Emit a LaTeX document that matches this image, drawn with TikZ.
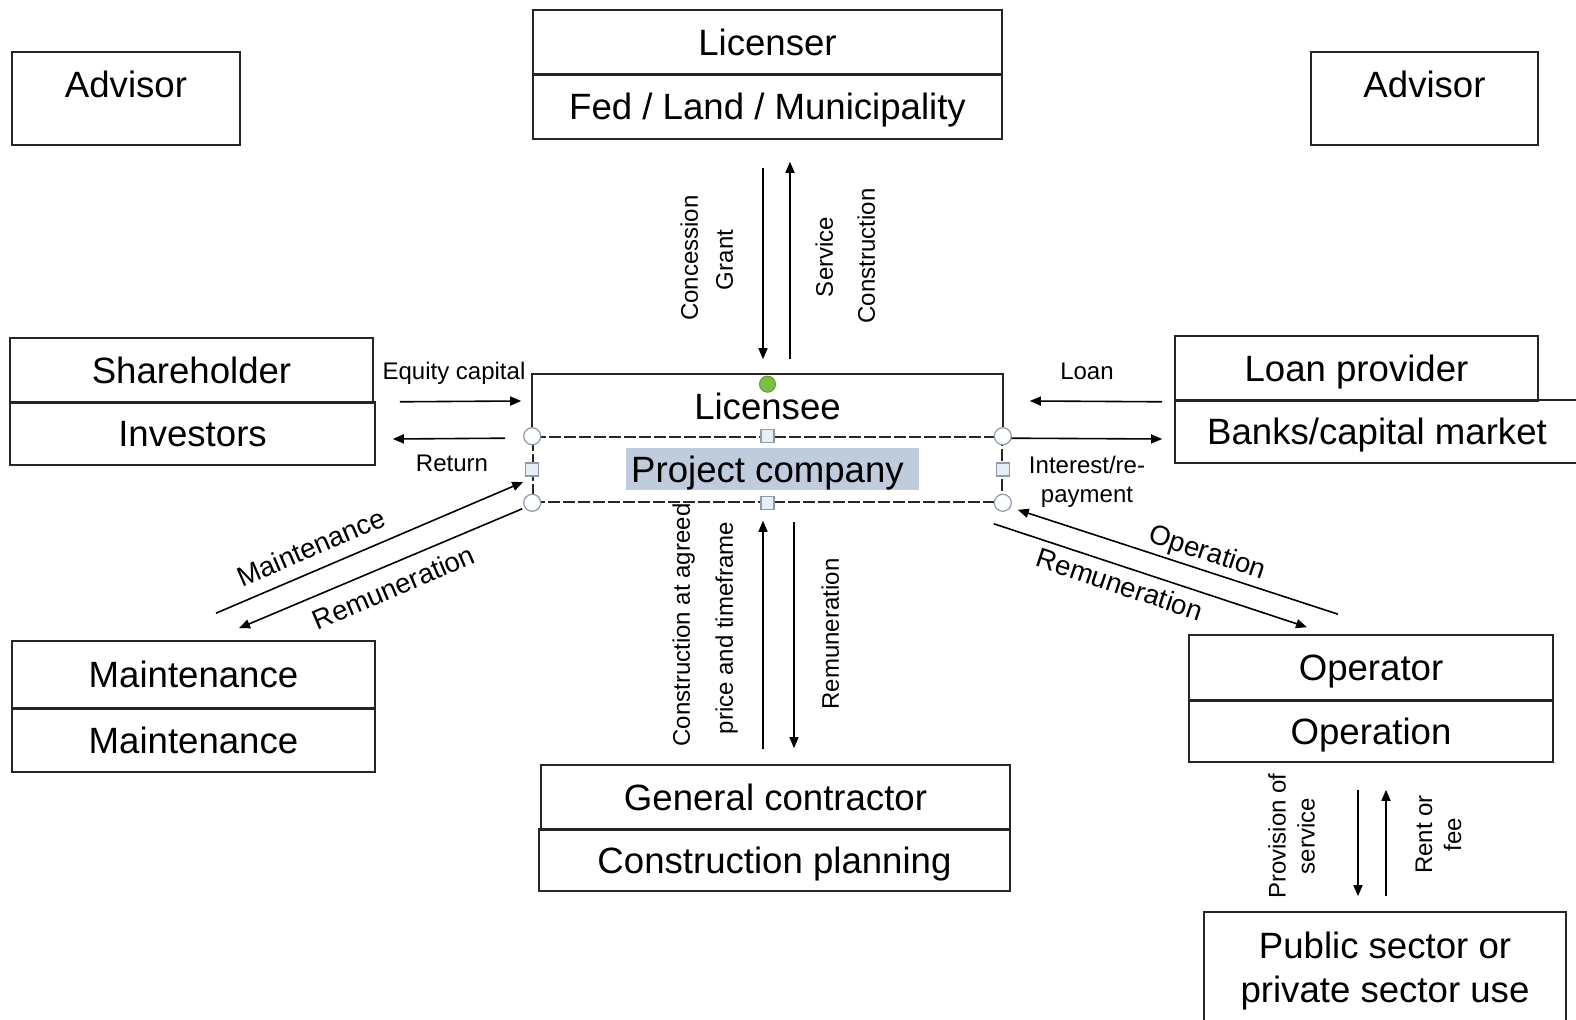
\documentclass[tikz,border=0pt]{standalone}
\usepackage{fontspec}
\setmainfont{Liberation Sans}
\usetikzlibrary{calc,arrows.meta}
\definecolor{hl}{HTML}{BFCCDD}
\definecolor{hgreen}{HTML}{7AC143}
\definecolor{hstroke}{HTML}{8C9AAA}
\definecolor{hsq}{HTML}{E6EEF7}
\begin{document}
\begin{tikzpicture}[x=0.5pt,y=-0.5pt,
  box/.style={draw=black!85, line width=0.8pt, inner sep=0pt, font=\fontsize{18.3}{22}\selectfont, align=center, text height=13.5pt, text depth=0pt},
  pbox/.style={draw=black!85, line width=0.8pt, inner sep=0pt, font=\fontsize{18.3}{22}\selectfont, align=center},
  lbl/.style={font=\fontsize{12}{14.5}\selectfont, inner sep=0pt, text height=8.8pt, text depth=0pt},
  mlbl/.style={font=\fontsize{12}{14.5}\selectfont, inner sep=0pt, align=center},
  dlbl/.style={font=\fontsize{13.8}{16}\selectfont, inner sep=0pt, text height=10pt, text depth=0pt},
  arr/.style={line width=0.8pt, -{Triangle[length=5.5pt,width=4.5pt]}},
  sepline/.style={line width=1.5pt, black!85}
]
\useasboundingbox (0,0) rectangle (1576,1020);
\fill[white] (0,0) rectangle (1576,1020);

% text highlight
\fill[hl] (626,448) rectangle (919,490);

% boxes
\node[box, minimum width=114pt, minimum height=46.5pt, text depth=14pt] (advL) at (126,98.5) {Advisor};
\node[box, minimum width=113.5pt, minimum height=46.5pt, text depth=14pt] (advR) at (1424.5,98.5) {Advisor};

\node[box, minimum width=234.5pt, minimum height=32pt] (licTop) at (767.5,42) {Licenser};
\node[box, minimum width=234.5pt, minimum height=32.5pt] (licBot) at (767.5,106.5) {Fed / Land / Municipality};

\node[box, minimum width=181.5pt, minimum height=32pt] (shTop) at (191.5,370) {Shareholder};
\node[box, minimum width=182.5pt, minimum height=31.5pt] (shBot) at (192.5,433.5) {Investors};

\node[box, minimum width=181.5pt, minimum height=32pt] (loanTop) at (1356.5,368) {Loan provider};
\node[box, minimum width=202pt, minimum height=31.5pt] (loanBot) at (1377,431.5) {Banks/capital market};

\node[box, draw=none, minimum width=234.5pt, minimum height=31pt] (licensee) at (767.5,406) {Licensee};
\draw[line width=0.8pt, black!85] (licensee.south west) |- (licensee.north east) -- (licensee.south east);
\node[box, dash pattern=on 6pt off 1.5pt, minimum width=234.5pt, minimum height=32.5pt] (project) at (767.5,469.5) {Project company};

\node[box, minimum width=181.5pt, minimum height=33.5pt] (mTop) at (193.5,674.5) {Maintenance};
\node[box, minimum width=181.5pt, minimum height=32pt] (mBot) at (193.5,740) {Maintenance};

\node[box, minimum width=234.5pt, minimum height=32pt] (gcTop) at (775.5,797) {General contractor};
\node[box, minimum width=235.5pt, minimum height=31pt] (gcBot) at (774.5,860) {Construction planning};

\node[box, minimum width=182pt, minimum height=32.5pt] (opTop) at (1371,667.5) {Operator};
\node[box, minimum width=182pt, minimum height=31pt] (opBot) at (1371,731) {Operation};

\node[pbox, minimum width=181pt, minimum height=59pt] (public) at (1385,971) {Public sector or\\private sector use};

% separators
\foreach \n in {licTop,shTop,loanTop,mTop,gcTop,opTop}
  \draw[sepline] (\n.south west) -- (\n.south east);

% arrows
\draw[arr] ($(licBot.south)+(-4.5,28)$) -- ($(licensee.north)+(-4.5,-15)$);
\draw[arr] ($(licensee.north)+(22.5,-15)$) -- ($(licBot.south)+(22.5,22)$);
\draw[arr] ($(shTop.south east)+(26,-1)$) -- ($(licensee.west)+(-11,-5)$);
\draw[arr] ($(project.north west)+(-27,2)$) -- ($(shBot.east)+(17,5.5)$);
\draw[arr] ($(loanTop.south west)+(-12,1)$) -- ($(licensee.east)+(27,-5)$);
\draw[arr] ($(project.north east)+(7,2)$) -- ($(loanBot.west)+(-12,7.5)$);
\draw[arr] ($(mTop.north)+(22.5,-27)$) -- ($(project.west)+(-9,12.5)$);
\draw[arr] ($(project.south west)+(-10,6)$) -- ($(mTop.north)+(45.5,-12)$);
\draw[arr] ($(opTop.north)+(-33,-20)$) -- ($(project.south east)+(15,7)$);
\draw[arr] ($(project.south east)+(-9,21)$) -- ($(opTop.north)+(-64,-7)$);
\draw[arr] ($(gcTop.north)+(-12.5,-15)$) -- ($(project.south)+(-4.5,18)$);
\draw[arr] ($(project.south)+(26.5,19)$) -- ($(gcTop.north)+(18.5,-16)$);
\draw[arr] ($(opBot.south)+(-13,27)$) -- ($(public.north)+(-27,-15)$);
\draw[arr] ($(public.north)+(1,-15)$) -- ($(opBot.south)+(15,27)$);

% labels
\node[lbl, rotate=90] (tConc) at (689,258) {Concession};
\node[lbl, rotate=90] (tGrant) at (724,260) {Grant};
\node[lbl, rotate=90] (tServ) at (824,257) {Service};
\node[lbl, rotate=90] (tConstr) at (866,256) {Construction};
\node[lbl] (tEq) at (454,371) {Equity capital};
\node[lbl] (tRet) at (452,463) {Return};
\node[lbl] (tLoan) at (1087,371) {Loan};
\node[mlbl] (tInt) at (1087,482) {Interest/re-\\payment};
\node[dlbl, rotate=23.2] (tMaint) at (311,547) {Maintenance};
\node[dlbl, rotate=23.2] (tRemL) at (393.5,587) {Remuneration};
\node[dlbl, rotate=-18.3] (tOper) at (1208,551) {Operation};
\node[dlbl, rotate=-18.5] (tRemR) at (1120,584) {Remuneration};
\node[lbl, rotate=90] (tCag) at (681,625) {Construction at agreed};
\node[lbl, rotate=90] (tPrice) at (724,628) {price and timeframe};
\node[lbl, rotate=90] (tRemD) at (830,634) {Remuneration};
\node[mlbl, rotate=90] (tProv) at (1291.5,836) {Provision of\\service};
\node[mlbl, rotate=90] (tRent) at (1438.5,834.5) {Rent or\\fee};

% selection handles
\foreach \p in {project.north west, project.north east, project.south west, project.south east}
  \draw[hstroke, fill=white, line width=0.6pt] (\p) circle (4.25pt);
\foreach \p in {project.north, project.south, project.west, project.east}
  \draw[hstroke, fill=hsq, line width=0.6pt] ([shift={(-3.25pt,-3.25pt)}]\p) rectangle ([shift={(3.25pt,3.25pt)}]\p);
\draw[hgreen!80!black, fill=hgreen, line width=0.5pt] ([yshift=-5pt]licensee.north) circle (4pt);
\end{tikzpicture}
\end{document}
